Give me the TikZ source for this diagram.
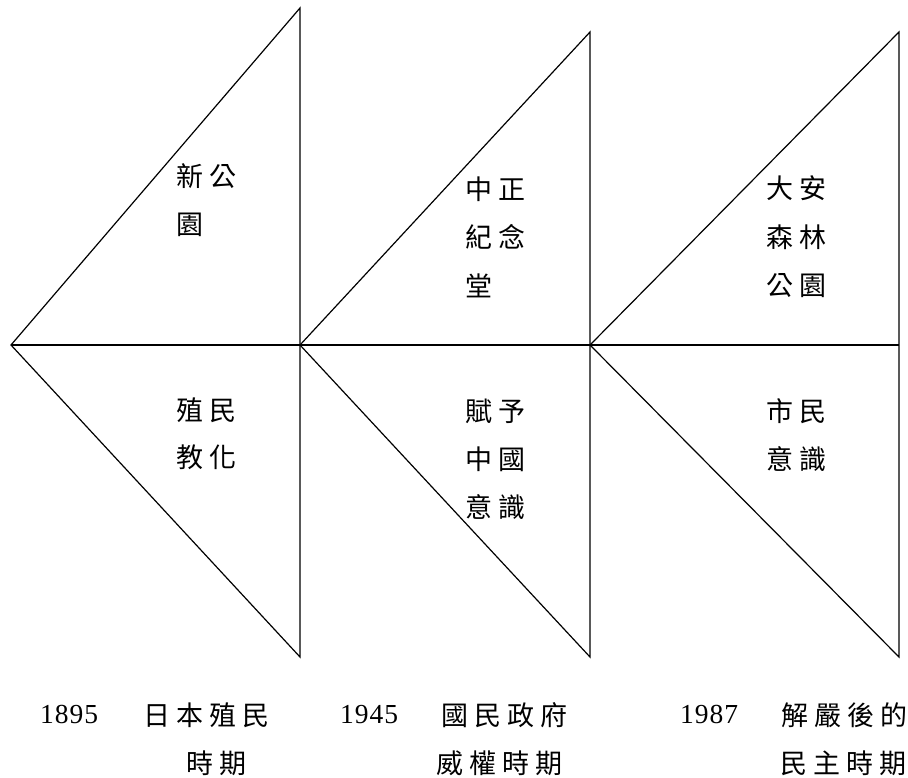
\documentclass[tikz,border=0pt]{standalone}
\usepackage{fontspec}
\setmainfont{Liberation Serif}
\newfontfamily\cjkfont{Noto Sans CJK TC}
\newcommand\cg{\kern6pt}
\newcommand\dg{\kern1pt}
\tikzset{
  edge/.style={line width=1.2pt, line join=miter},
  cj/.style={font=\cjkfont\fontsize{27}{27}\selectfont, inner sep=0pt, anchor=base west},
  yr/.style={font=\fontsize{27.5}{27.5}\selectfont, inner sep=0pt, anchor=base west},
}
\begin{document}
\begin{tikzpicture}[x=1pt,y=-1pt]
\useasboundingbox (0,0) rectangle (908,778);
% triangle vertices
\coordinate (a1) at (11,345);
\coordinate (t1) at (300,8);
\coordinate (b1) at (300,657);
\coordinate (a2) at (300,345);
\coordinate (t2) at (590,32);
\coordinate (b2) at (590,657);
\coordinate (a3) at (590,345);
\coordinate (t3) at (899,32);
\coordinate (b3) at (899,657);
\coordinate (e3) at (899,345);
\draw[edge] (a1) -- (t1) -- (b1) -- cycle;
\draw[edge] (a2) -- (t2) -- (b2) -- cycle;
\draw[edge] (a3) -- (t3) -- (b3) -- cycle;
\draw[edge] (a1) -- (e3);
% labels in triangle 1
\node[cj] (l1a) at (176,186.5) {新\cg 公};
\node[cj] (l1b) at (176,234.5) {園};
\node[cj] (l1c) at (176,420.5) {殖\cg 民};
\node[cj] (l1d) at (176,467.5) {教\cg 化};
% labels in triangle 2
\node[cj] (l2a) at (465,199.5) {中\cg 正};
\node[cj] (l2b) at (465,248) {紀\cg 念};
\node[cj] (l2c) at (465,297) {堂};
\node[cj] (l2d) at (465,421.5) {賦\cg 予};
\node[cj] (l2e) at (465,469.5) {中\cg 國};
\node[cj] (l2f) at (465,517.5) {意\cg 識};
% labels in triangle 3
\node[cj] (l3a) at (766,198.5) {大\cg 安};
\node[cj] (l3b) at (766,247.5) {森\cg 林};
\node[cj] (l3c) at (766,295.5) {公\cg 園};
\node[cj] (l3d) at (766,421.5) {市\cg 民};
\node[cj] (l3e) at (766,469.5) {意\cg 識};
% bottom captions
\node[yr] (y1) at (40,723) {1\dg 8\dg 9\dg 5};
\node[cj] (p1a) at (143,725) {日\cg 本\cg 殖\cg 民};
\node[cj] (p1b) at (186,773) {時\cg 期};
\node[yr] (y2) at (340,723) {1\dg 9\dg 4\dg 5};
\node[cj] (p2a) at (441,725) {國\cg 民\cg 政\cg 府};
\node[cj] (p2b) at (436,773) {威\cg 權\cg 時\cg 期};
\node[yr] (y3) at (680,723) {1\dg 9\dg 8\dg 7};
\node[cj] (p3a) at (781,725) {解\cg 嚴\cg 後\cg 的};
\node[cj] (p3b) at (780,773) {民\cg 主\cg 時\cg 期};
\end{tikzpicture}
\end{document}
